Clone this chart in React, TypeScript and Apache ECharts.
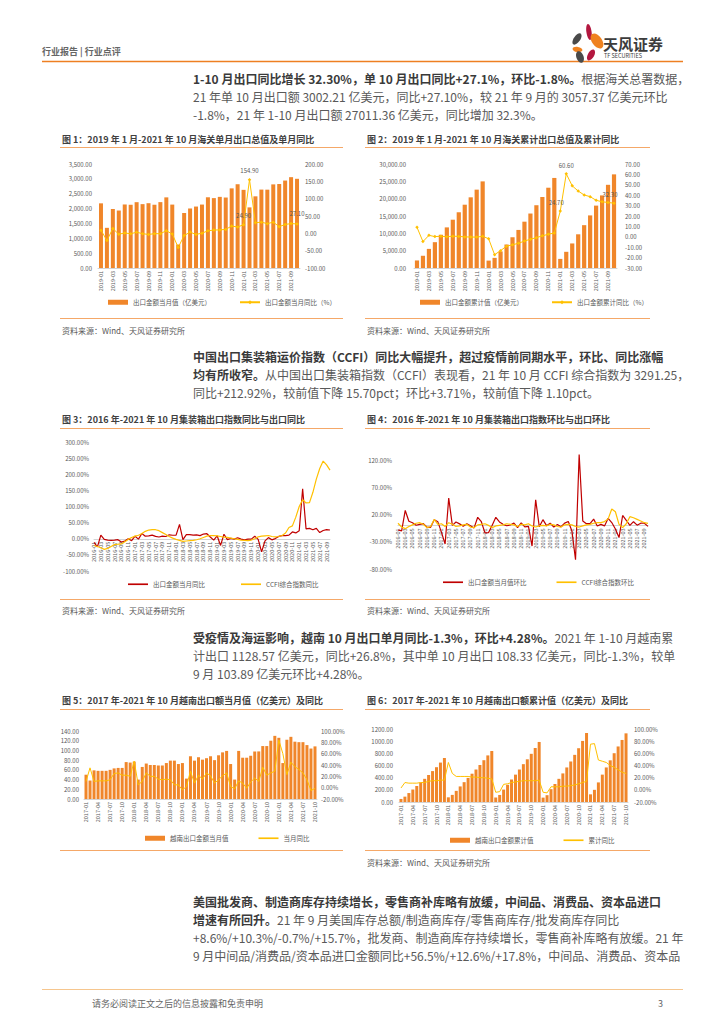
import React, { useEffect, useRef } from 'react';
import * as echarts from 'echarts';

const FF = "'Noto Sans CJK SC','Noto Sans',sans-serif";

function monthRange(start: string, end: string): string[] {
  const out: string[] = [];
  let [y, m] = start.split('-').map(Number);
  const [ey, em] = end.split('-').map(Number);
  while (y < ey || (y === ey && m <= em)) {
    out.push(`${y}-${String(m).padStart(2, '0')}`);
    m++;
    if (m > 12) { m = 1; y++; }
  }
  return out;
}

// ---- categories ----
const months19 = monthRange('2019-01', '2021-10');
const months16 = monthRange('2016-01', '2021-10');
const months17 = monthRange('2017-01', '2021-10');

// ---- chart 1: monthly export value (亿美元) and YoY (%) ----
const exportMonthly = [2176, 1352, 1986, 1934, 2138, 2128, 2215, 2149, 2181, 2129, 2217, 2377,
  2134, 790, 1852, 2003, 2068, 2135, 2380, 2352, 2394, 2372, 2680, 2819,
  2630, 2040, 2412, 2639, 2636, 2814, 2826, 2943, 3057, 3002];
const exportMonthlyYoy = [9.1, -20.7, 14.0, -2.7, 1.1, -1.3, 3.3, -1.0, -3.2, -0.9, -1.1, 7.6,
  -2.0, -40.6, -6.6, 3.5, -3.3, 0.5, 7.2, 9.5, 9.9, 11.4, 21.1, 18.1,
  24.9, 154.9, 30.6, 32.3, 27.9, 32.2, 19.3, 25.6, 28.1, 27.1];
const c1Labeled = [24, 25, 33];

// ---- chart 2: cumulative export value and cumulative YoY ----
const exportCum = [2176, 3528, 5514, 7448, 9586, 11714, 13929, 16078, 18259, 20388, 22605, 24985,
  2134, 2924, 4776, 6779, 8847, 10982, 13362, 15714, 18108, 20480, 23160, 25979,
  2630, 4670, 7082, 9721, 12357, 15171, 17997, 20940, 23997, 27011];
const exportCumYoy = [9.1, -4.6, 1.4, 0.2, 0.5, 0.1, 0.6, 0.4, -0.1, -0.2, -0.3, 0.5,
  -1.9, -17.2, -13.3, -9.0, -7.7, -6.2, -4.1, -2.3, -0.8, 0.9, 2.5, 3.6,
  24.7, 60.6, 49.0, 44.0, 40.2, 38.6, 35.1, 33.7, 33.0, 32.3];
const c2Labeled = [24, 25, 33];

// ---- chart 3: YoY (%) 2016-01 .. 2021-10 ----
const exportYoy16 = [-11.2, -25.4, 11.5, -1.8, -4.1, -4.8, -4.4, -2.8, -10.0, -7.3, 0.1, -6.1,
  7.9, -1.3, 16.4, 8.0, 8.7, 11.3, 7.2, 5.5, 8.1, 6.9, 12.3, 10.9,
  11.1, 44.5, -2.7, 12.9, 12.6, 11.3, 12.2, 9.8, 14.5, 15.6, 5.4, -4.4,
  9.1, -20.7, 14.0, -2.7, 1.1, -1.3, 3.3, -1.0, -3.2, -0.9, -1.1, 7.6,
  -2.0, -40.6, -6.6, 3.5, -3.3, 0.5, 7.2, 9.5, 9.9, 11.4, 21.1, 18.1,
  24.9, 154.9, 30.6, 32.3, 27.9, 32.2, 19.3, 25.6, 28.1, 27.1];
const ccfiYoy = [-21, -24, -28, -33, -30, -24, -18, -17, -16, -9, -2, 4,
  8, 11, 16, 23, 27, 28, 28, 25, 19, 13, 7, 2,
  -2, -5, -8, -7, -6, -5, -3, 0, 4, 8, 10, 10,
  9, 7, 5, 4, 2, 0, -2, -4, -5, -6, -4, 0,
  6, 8, 9, 10, 7, 6, 7, 10, 18, 35, 40, 67,
  100, 121, 111, 112, 144, 185, 218, 241, 229, 212.92];

// ---- chart 4: MoM (%) ----
const exportMom = [-8.5, -10.0, 27.4, 7.5, 4.9, 0.2, 1.8, 3.1, -3.1, -3.5, 10.5, 6.5,
  -12.8, -34.2, 50.0, 0.0, 6.2, 2.8, -1.4, 2.9, -0.6, -4.6, 14.9, 6.8,
  -13.8, -13.2, 0.3, 14.9, 6.4, 1.9, -0.6, 0.8, 4.3, -4.1, 4.6, -2.6,
  -1.7, -37.9, 46.9, -2.6, 10.5, -0.5, 4.1, -3.0, 1.5, -2.4, 4.1, 7.2,
  -10.2, -63.0, 130.0, 8.2, 3.2, 3.2, 11.5, -1.2, 1.8, -0.9, 13.0, 5.2,
  -6.7, -22.4, 18.2, 9.4, -0.1, 6.8, 0.4, 4.1, 3.9, -1.8];
const ccfiMom = [4, -3, -6, -2, 1, 4, 5, 2, -4, -2, 11, 2,
  3, -2, 5, 2, -2, -1, 1, 2, -3, -4, 1, 2,
  3, 0, -4, -1, 0, 1, 3, 2, 1, -2, 2, 1,
  3, -1, -3, -1, 0, -1, 2, 1, -2, -3, 1, 2,
  1, -2, -3, -1, 1, 2, 4, 5, 5, 7, 12, 30,
  25, 2, -4, 3, 16, 14, 11, 8, 5, 3.71];

// ---- chart 5: Vietnam monthly exports (亿美元) and YoY ----
const vnMonthly = [50, 38, 59, 58, 58, 58, 60, 63, 64, 64, 76, 75,
  77, 40, 66, 73, 70, 70, 69, 69, 74, 79, 79, 72,
  74, 42, 88, 79, 86, 81, 84, 88, 80, 90, 96, 99,
  72, 40, 99, 85, 85, 89, 98, 98, 109, 109, 120, 130,
  126, 74, 122, 128, 118, 117, 117, 111, 103.89, 108.33];
const vnMonthlyYoy = [11, 35, 11, 12, 12, 12, 14, 25, 26, 22, 22, 20,
  47, 5, 11, 26, 20, 20, 15, 14, 15, 14, 5, 5,
  -4, 2, 29, 8, 22, 15, 26, 21, 8, 14, 21, 26,
  2, -2, 12, 8, -1, 10, 17, 11, 36, 22, 26, 29,
  84, 60, 23, 45, 37, 32, 26, 14, -5, -1.3];

// ---- chart 6: Vietnam cumulative exports and cumulative YoY ----
const vnCum = [50, 88, 147, 205, 263, 321, 381, 444, 508, 572, 648, 723,
  77, 117, 183, 256, 326, 396, 465, 534, 608, 687, 766, 838,
  74, 116, 204, 283, 369, 450, 534, 622, 702, 792, 888, 987,
  72, 112, 211, 296, 381, 470, 568, 666, 775, 884, 1004, 1134,
  126, 200, 322, 450, 568, 685, 802, 913, 1020, 1128.57];
const vnCumYoy = [3, 12, 11, 11, 11, 12, 12, 14, 15, 15, 16, 16,
  45, 27, 22, 22, 22, 22, 21, 21, 20, 20, 19, 18,
  -4, -3, 9, 10, 12, 13, 14, 15, 15, 15, 15, 16,
  -4, -5, 5, 5, 5, 6, 6, 7, 8, 10, 12, 14,
  75, 76, 49, 47, 45, 40, 37, 33, 29, 26.8];

const ORANGE = '#F0862A';
const GOLD = '#FFC000';
const RED = '#C00000';
const GRAY = '#595959';
const LINE_OR = '#F5A868';
const LINE_ICON = 'path://M0,0 L24,0 L24,2 L0,2 Z';

const fmtComma = (v: number) => v.toLocaleString('en-US', { minimumFractionDigits: 2, maximumFractionDigits: 2 });
const fmt2 = (v: number) => v.toFixed(2);
const fmtPct = (v: number) => v.toFixed(2) + '%';

function yAx(grid: number, min: number, max: number, interval: number, fmt: (v: number) => string, position = 'left', margin = 6) {
  return {
    type: 'value', gridIndex: grid, min, max, interval, position,
    axisLine: { show: false }, axisTick: { show: false }, splitLine: { show: false },
    axisLabel: { fontSize: 6, color: GRAY, fontFamily: FF, formatter: fmt, margin },
  };
}
function xAx(grid: number, data: string[], interval: number, boundaryGap: boolean, offset = 0) {
  return {
    type: 'category', gridIndex: grid, data, boundaryGap, offset, position: 'bottom',
    axisLine: { show: true, onZero: false, lineStyle: { color: '#C8C8C8', width: 0.8 } },
    axisTick: { show: false },
    axisLabel: { fontSize: 5.5, color: GRAY, rotate: 90, interval, margin: 3, fontFamily: FF },
  };
}

function txt(x: number, y: number, text: string, fontSize: number, fill: string, fontWeight: string | number = 'normal') {
  return { type: 'text', x, y, silent: true, style: { text, fontSize, fill, fontWeight, fontFamily: FF, verticalAlign: 'middle', align: 'left' } };
}
const BODY = 12;
const richStyles = {
  b: { fontSize: BODY, fontWeight: 'bold', fill: '#3A3A3A', color: '#3A3A3A', fontFamily: FF },
  n: { fontSize: BODY, fontWeight: 'normal', fill: '#595959', color: '#595959', fontFamily: FF },
};
function para(x: number, y: number, parts: [string, string][]) {
  const text = parts.map(([k, s]) => `{${k}|${s}}`).join('');
  return { type: 'text', x, y, silent: true, style: { text, rich: richStyles, fontSize: BODY, fontFamily: FF, verticalAlign: 'middle', align: 'left' } };
}
function hline(x1: number, x2: number, y: number, stroke: string, w = 1) {
  return { type: 'line', silent: true, shape: { x1, y1: y, x2, y2: y }, style: { stroke, lineWidth: w } };
}
function petal(x: number, y: number, rx: number, ry: number, rot: number, fill: string) {
  return { type: 'ellipse', x, y, rotation: (rot * Math.PI) / 180, silent: true, shape: { cx: 0, cy: 0, rx, ry }, style: { fill } };
}

function labeledData(vals: number[], idx: number[], positions: string[], offsets: number[][]) {
  return vals.map((v, i) => {
    const k = idx.indexOf(i);
    if (k < 0) return v;
    return { value: v, label: { show: true, position: positions[k], offset: offsets[k], formatter: (p: any) => fmt2(p.value), fontSize: 6, color: GRAY, fontFamily: FF, distance: 4 } };
  });
}

function buildOption() {
  const legendBase = {
    orient: 'horizontal', itemWidth: 20, itemHeight: 5, itemGap: 28, padding: 0, selectedMode: false,
    textStyle: { fontSize: 6.5, color: GRAY, fontFamily: FF },
  };
  const graphics: any[] = [
    // header
    txt(42, 51, '行业报告 | 行业点评', 9, '#666666', 'bold'),
    hline(42, 683, 61.5, '#EE7F22', 1.6),
    petal(589, 32, 2.6, 8, 8, '#B3173F'),
    petal(597, 41, 5, 8.5, 35, '#EF8220'),
    petal(577, 39, 3.2, 6.5, -35, '#4A4A4A'),
    petal(577.5, 49.5, 5, 2.6, -10, '#EF8220'),
    petal(580, 57, 3.6, 6, 20, '#4A4A4A'),
    petal(591, 55, 3.2, 6, -30, '#B3173F'),
    txt(603, 43, '天风证券', 15, '#3C3C3C', 'bold'),
    txt(604, 56, 'TF SECURITIES', 5.5, '#3C3C3C'),
    // paragraph 1
    para(193, 78, [['b', '1-10 月出口同比增长 32.30%，单 10 月出口同比+27.1%，环比-1.8%。'], ['n', '根据海关总署数据，']]),
    para(193, 96, [['n', '21 年单 10 月出口额 3002.21 亿美元，同比+27.10%，较 21 年 9 月的 3057.37 亿美元环比']]),
    para(193, 114, [['n', '-1.8%，21 年 1-10 月出口额 27011.36 亿美元，同比增加 32.3%。']]),
    // paragraph 2
    para(193, 356, [['b', '中国出口集装箱运价指数（CCFI）同比大幅提升，超过疫情前同期水平，环比、同比涨幅']]),
    para(193, 374, [['b', '均有所收窄。'], ['n', '从中国出口集装箱指数（CCFI）表现看，21 年 10 月 CCFI 综合指数为 3291.25，']]),
    para(193, 392, [['n', '同比+212.92%，较前值下降 15.70pct；环比+3.71%，较前值下降 1.10pct。']]),
    // paragraph 3
    para(193, 637, [['b', '受疫情及海运影响，越南 10 月出口单月同比-1.3%，环比+4.28%。'], ['n', '2021 年 1-10 月越南累']]),
    para(193, 655, [['n', '计出口 1128.57 亿美元，同比+26.8%，其中单 10 月出口 108.33 亿美元，同比-1.3%，较单']]),
    para(193, 673, [['n', '9 月 103.89 亿美元环比+4.28%。']]),
    // paragraph 4
    para(193, 901, [['b', '美国批发商、制造商库存持续增长，零售商补库略有放缓，中间品、消费品、资本品进口']]),
    para(193, 919, [['b', '增速有所回升。'], ['n', '21 年 9 月美国库存总额/制造商库存/零售商库存/批发商库存同比']]),
    para(193, 937, [['n', '+8.6%/+10.3%/-0.7%/+15.7%，批发商、制造商库存持续增长，零售商补库略有放缓。21 年']]),
    para(193, 955, [['n', '9 月中间品/消费品/资本品进口金额同比+56.5%/+12.6%/+17.8%，中间品、消费品、资本品']]),
    // titles
    txt(62, 139, '图 1：2019 年 1 月-2021 年 10 月海关单月出口总值及单月同比', 9, '#404040', 'bold'),
    txt(367, 139, '图 2：2019 年 1 月-2021 年 10 月海关累计出口总值及累计同比', 9, '#404040', 'bold'),
    txt(62, 419, '图 3：2016 年-2021 年 10 月集装箱出口指数同比与出口同比', 9, '#404040', 'bold'),
    txt(367, 419, '图 4：2016 年-2021 年 10 月集装箱出口指数环比与出口环比', 9, '#404040', 'bold'),
    txt(62, 700, '图 5：2017 年-2021 年 10 月越南出口额当月值（亿美元）及同比', 9, '#404040', 'bold'),
    txt(367, 700, '图 6：2017 年-2021 年 10 月越南出口额累计值（亿美元）及同比', 9, '#404040', 'bold'),
    hline(60, 343, 147.5, LINE_OR), hline(365, 650, 147.5, LINE_OR),
    hline(60, 343, 428.5, LINE_OR), hline(365, 650, 428.5, LINE_OR),
    hline(60, 343, 709.5, LINE_OR), hline(365, 650, 709.5, LINE_OR),
    hline(60, 343, 318.5, LINE_OR), hline(365, 650, 318.5, LINE_OR),
    hline(60, 343, 599.5, LINE_OR), hline(365, 650, 599.5, LINE_OR),
    hline(60, 343, 850.5, LINE_OR), hline(365, 650, 850.5, LINE_OR),
    txt(62, 330, '资料来源：Wind、天风证券研究所', 8, GRAY),
    txt(367, 330, '资料来源：Wind、天风证券研究所', 8, GRAY),
    txt(62, 610, '资料来源：Wind、天风证券研究所', 8, GRAY),
    txt(367, 610, '资料来源：Wind、天风证券研究所', 8, GRAY),
    txt(367, 862, '资料来源：Wind、天风证券研究所', 8, GRAY),
    // footer
    hline(42, 683, 989.5, '#F6C68E', 1),
    txt(92, 1003, '请务必阅读正文之后的信息披露和免责申明', 9, '#666666'),
    txt(658, 1003, '3', 9, '#666666'),
  ];

  // zero-line offsets for charts 3 and 4 (axis labels sit on the 0 line)
  const off3 = -(129 * 100 / 400);
  const off4 = -(109 * 80 / 200);

  return {
    animation: false,
    backgroundColor: '#ffffff',
    textStyle: { fontFamily: FF },
    grid: [
      { left: 98, top: 164, width: 202, height: 104 },
      { left: 414, top: 164, width: 203, height: 104 },
      { left: 94, top: 442, width: 236, height: 129 },
      { left: 398, top: 460, width: 250, height: 109 },
      { left: 84, top: 731, width: 233, height: 68 },
      { left: 399, top: 729, width: 229, height: 73 },
    ],
    xAxis: [
      xAx(0, months19, 1, true),
      xAx(1, months19, 1, true),
      xAx(2, months16, 1, false, off3),
      xAx(3, months16, 1, false, off4),
      xAx(4, months17, 2, true),
      xAx(5, months17, 2, true),
    ],
    yAxis: [
      yAx(0, 0, 3500, 500, fmtComma, 'left', 6),
      yAx(0, -100, 200, 50, fmt2, 'right', 5),
      yAx(1, 0, 30000, 5000, fmtComma, 'left', 8),
      yAx(1, -30, 70, 10, fmt2, 'right', 8),
      yAx(2, -100, 300, 50, fmtPct, 'left', 5),
      yAx(3, -80, 120, 50, fmtPct, 'left', 6),
      yAx(4, 0, 140, 20, fmt2, 'left', 5),
      yAx(4, -20, 100, 20, fmtPct, 'right', 4),
      yAx(5, 0, 1200, 200, fmt2, 'left', 6),
      yAx(5, -20, 100, 20, fmtPct, 'right', 6),
    ],
    legend: [
      { ...legendBase, left: 108, top: 299, data: [{ name: '出口金额当月值（亿美元）', icon: 'rect' }, { name: '出口金额当月同比（%）' }] },
      { ...legendBase, left: 420, top: 299, data: [{ name: '出口金额累计值（亿美元）', icon: 'rect' }, { name: '出口金额累计同比（%）' }] },
      { ...legendBase, left: 128, top: 581, itemGap: 36, data: [{ name: '出口金额当月同比', icon: LINE_ICON }, { name: 'CCFI综合指数同比', icon: LINE_ICON }] },
      { ...legendBase, left: 443, top: 579, itemGap: 30, data: [{ name: '出口金额当月值环比', icon: LINE_ICON }, { name: 'CCFI综合指数环比', icon: LINE_ICON }] },
      { ...legendBase, left: 145, top: 835, itemGap: 30, data: [{ name: '越南出口金额当月值', icon: 'rect' }, { name: '当月同比', icon: LINE_ICON }] },
      { ...legendBase, left: 450, top: 837, itemGap: 30, data: [{ name: '越南出口金额累计值', icon: 'rect' }, { name: '累计同比', icon: LINE_ICON }] },
    ],
    series: [
      { name: '出口金额当月值（亿美元）', type: 'bar', xAxisIndex: 0, yAxisIndex: 0, data: exportMonthly, barWidth: 4, itemStyle: { color: ORANGE } },
      {
        name: '出口金额当月同比（%）', type: 'line', xAxisIndex: 0, yAxisIndex: 1,
        data: labeledData(exportMonthlyYoy, c1Labeled, ['top', 'top', 'top'], [[0, 0], [0, 0], [0, -2]]),
        symbol: 'diamond', symbolSize: 3.5, lineStyle: { width: 1, color: GOLD }, itemStyle: { color: GOLD },
      },
      { name: '出口金额累计值（亿美元）', type: 'bar', xAxisIndex: 1, yAxisIndex: 2, data: exportCum, barWidth: 4.2, itemStyle: { color: ORANGE } },
      {
        name: '出口金额累计同比（%）', type: 'line', xAxisIndex: 1, yAxisIndex: 3,
        data: labeledData(exportCumYoy, c2Labeled, ['top', 'top', 'top'], [[-4, 0], [0, 0], [-4, 0]]),
        symbol: 'diamond', symbolSize: 3.5, lineStyle: { width: 1, color: GOLD }, itemStyle: { color: GOLD },
      },
      { name: '出口金额当月同比', type: 'line', xAxisIndex: 2, yAxisIndex: 4, data: exportYoy16, symbol: 'none', lineStyle: { width: 1.2, color: RED }, itemStyle: { color: RED } },
      { name: 'CCFI综合指数同比', type: 'line', xAxisIndex: 2, yAxisIndex: 4, data: ccfiYoy, symbol: 'none', lineStyle: { width: 1.2, color: GOLD }, itemStyle: { color: GOLD } },
      { name: '出口金额当月值环比', type: 'line', xAxisIndex: 3, yAxisIndex: 5, data: exportMom, symbol: 'none', clip: false, lineStyle: { width: 1.2, color: RED }, itemStyle: { color: RED } },
      { name: 'CCFI综合指数环比', type: 'line', xAxisIndex: 3, yAxisIndex: 5, data: ccfiMom, symbol: 'none', lineStyle: { width: 1.2, color: GOLD }, itemStyle: { color: GOLD } },
      { name: '越南出口金额当月值', type: 'bar', xAxisIndex: 4, yAxisIndex: 6, data: vnMonthly, barWidth: 3, itemStyle: { color: ORANGE } },
      { name: '当月同比', type: 'line', xAxisIndex: 4, yAxisIndex: 7, data: vnMonthlyYoy, symbol: 'none', lineStyle: { width: 1, color: GOLD }, itemStyle: { color: GOLD } },
      { name: '越南出口金额累计值', type: 'bar', xAxisIndex: 5, yAxisIndex: 8, data: vnCum, barWidth: 3, itemStyle: { color: ORANGE } },
      { name: '累计同比', type: 'line', xAxisIndex: 5, yAxisIndex: 9, data: vnCumYoy, symbol: 'none', lineStyle: { width: 1, color: GOLD }, itemStyle: { color: GOLD } },
    ],
    graphic: graphics,
  };
}

export default function App() {
  const ref = useRef<HTMLDivElement>(null);
  useEffect(() => {
    const chart = echarts.init(ref.current!, undefined, { renderer: 'svg', width: 724, height: 1024 });
    chart.setOption(buildOption() as any);
    return () => chart.dispose();
  }, []);
  return <div ref={ref} style={{ position: 'fixed', left: 0, top: 0, width: 724, height: 1024, background: '#fff' }} />;
}
